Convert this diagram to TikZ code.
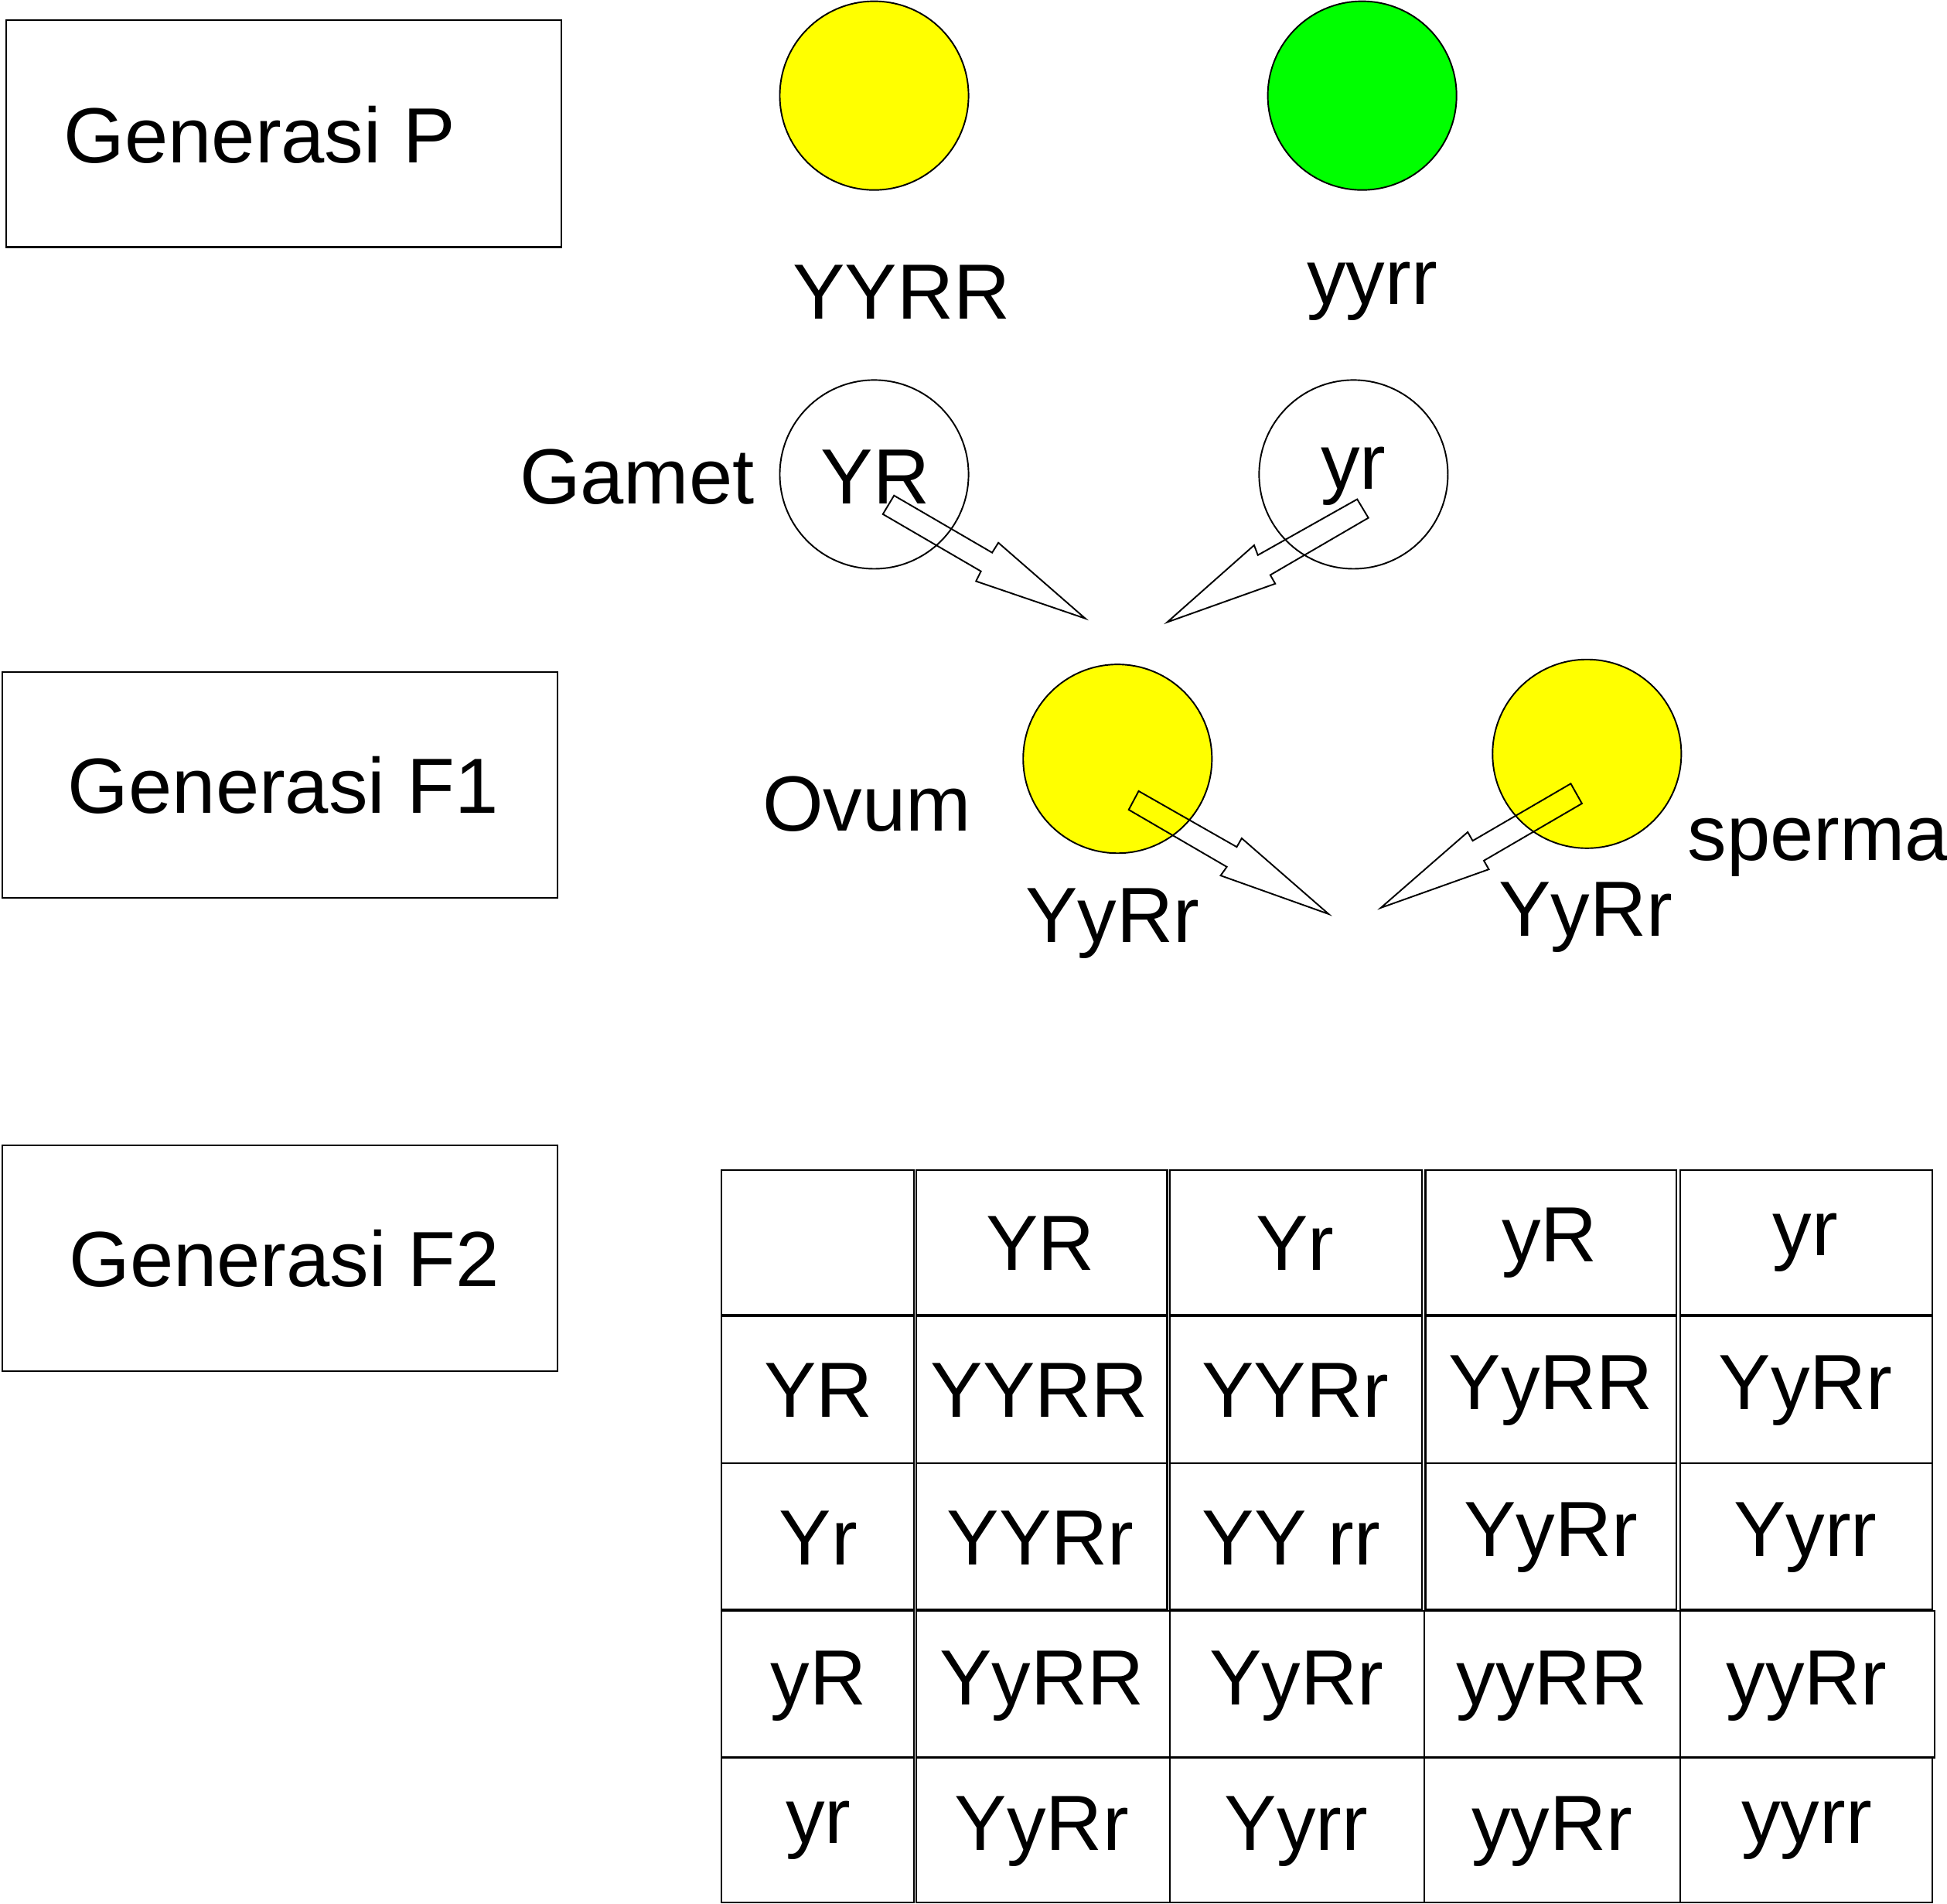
\documentclass[tikz,border=0pt]{standalone}
\usepackage{fontspec}
\setmainfont{Liberation Sans}
\begin{document}
\begin{tikzpicture}[x=1pt,y=-1pt,
  lbl/.style={anchor=base, inner sep=0pt, font=\fontsize{63pt}{70pt}\selectfont},
  genbox/.style={draw, line width=1.4pt},
  circ/.style={draw, line width=1.2pt},
  blockarrow/.style={draw, line width=1.2pt, line join=miter},
  cellbox/.style={draw, line width=1.5pt}]
\useasboundingbox (0,0) rectangle (1568,1533);
% generation boxes
\draw[genbox] (5,16) rectangle (452,199);
\draw[genbox] (2,541) rectangle (449,723);
\draw[genbox] (2,922) rectangle (449,1104);
\node[lbl] (genP) at (209,131) {Generasi P};
\node[lbl] (genF1) at (228,655) {Generasi F1};
\node[lbl] (genF2) at (229,1036) {Generasi F2};
% P generation
\draw[circ, fill={rgb,255:red,255;green,255;blue,0}] (704,77) circle (76);
\draw[circ, fill={rgb,255:red,0;green,255;blue,0}] (1097,77) circle (76);
\node[lbl] (pY) at (726,257) {YYRR};
\node[lbl] (pG) at (1105,245) {yyrr};
% gametes
\draw[circ] (704,382) circle (76);
\draw[circ] (1090,382) circle (76);
\node[lbl] (gamet) at (513,406) {Gamet};
\node[lbl] (gYR) at (705,406) {YR};
\node[lbl] (gyr) at (1090,394) {yr};
\draw[blockarrow] (720,399) -- (799,445) -- (804,437) -- (874,498) -- (786,468) -- (790,460) -- (711,414) -- cycle;
\draw[blockarrow] (1093,402) -- (1013,447) -- (1010,439) -- (940,501) -- (1027,470) -- (1023,463) -- (1102,417) -- cycle;
% F1
\draw[circ, fill={rgb,255:red,255;green,255;blue,0}] (900,611) circle (76);
\draw[circ, fill={rgb,255:red,255;green,255;blue,0}] (1278,607) circle (76);
\node[lbl] (ovum) at (698,669) {Ovum};
\node[lbl] (f1a) at (896,759) {YyRr};
\node[lbl] (f1b) at (1277,754) {YyRr};
\node[lbl, anchor=base west] (sperma) at (1359,693) {sperma};
\draw[blockarrow] (917,637) -- (996,682) -- (1000,675) -- (1070,736) -- (983,705) -- (988,698) -- (909,652) -- cycle;
\draw[blockarrow] (1265,631) -- (1186,677) -- (1182,670) -- (1112,731) -- (1199,700) -- (1195,693) -- (1274,647) -- cycle;
% Punnett square cells
\foreach \ya/\yb in {942/1059,1060/1178,1178/1296}{
  \draw[cellbox] (581,\ya) rectangle (736,\yb);
  \draw[cellbox] (738,\ya) rectangle (940,\yb);
  \draw[cellbox] (942,\ya) rectangle (1145,\yb);
  \draw[cellbox] (1148,\ya) rectangle (1350,\yb);
  \draw[cellbox] (1353,\ya) rectangle (1556,\yb);
}
\draw[cellbox] (581,1297) rectangle (736,1415);
\draw[cellbox] (738,1297) rectangle (942,1415);
\draw[cellbox] (942,1297) rectangle (1147,1415);
\draw[cellbox] (1147,1297) rectangle (1353,1415);
\draw[cellbox] (1353,1297) rectangle (1558,1415);
\draw[cellbox] (581,1415) rectangle (736,1532);
\draw[cellbox] (738,1415) rectangle (942,1532);
\draw[cellbox] (942,1415) rectangle (1147,1532);
\draw[cellbox] (1147,1415) rectangle (1353,1532);
\draw[cellbox] (1353,1415) rectangle (1556,1532);
% row 1
\node[lbl] (h1) at (838,1023) {YR};
\node[lbl] (h2) at (1043,1023) {Yr};
\node[lbl] (h3) at (1248,1016) {yR};
\node[lbl] (h4) at (1454,1011) {yr};
% row 2
\node[lbl] (r1) at (659,1141) {YR};
\node[lbl] (c11) at (837,1141) {YYRR};
\node[lbl] (c12) at (1043,1141) {YYRr};
\node[lbl] (c13) at (1249,1135) {YyRR};
\node[lbl] (c14) at (1454,1135) {YyRr};
% row 3
\node[lbl] (r2) at (659,1260) {Yr};
\node[lbl] (c21) at (838,1260) {YYRr};
\node[lbl] (c22) at (1040,1260) {YY rr};
\node[lbl] (c23) at (1249,1253) {YyRr};
\node[lbl] (c24) at (1454,1253) {Yyrr};
% row 4
\node[lbl] (r3) at (659,1373) {yR};
\node[lbl] (c31) at (839,1373) {YyRR};
\node[lbl] (c32) at (1044,1373) {YyRr};
\node[lbl] (c33) at (1250,1373) {yyRR};
\node[lbl] (c34) at (1455,1373) {yyRr};
% row 5
\node[lbl] (r4) at (659,1484) {yr};
\node[lbl] (c41) at (839,1490) {YyRr};
\node[lbl] (c42) at (1044,1490) {Yyrr};
\node[lbl] (c43) at (1250,1490) {yyRr};
\node[lbl] (c44) at (1455,1484) {yyrr};
\end{tikzpicture}
\end{document}
